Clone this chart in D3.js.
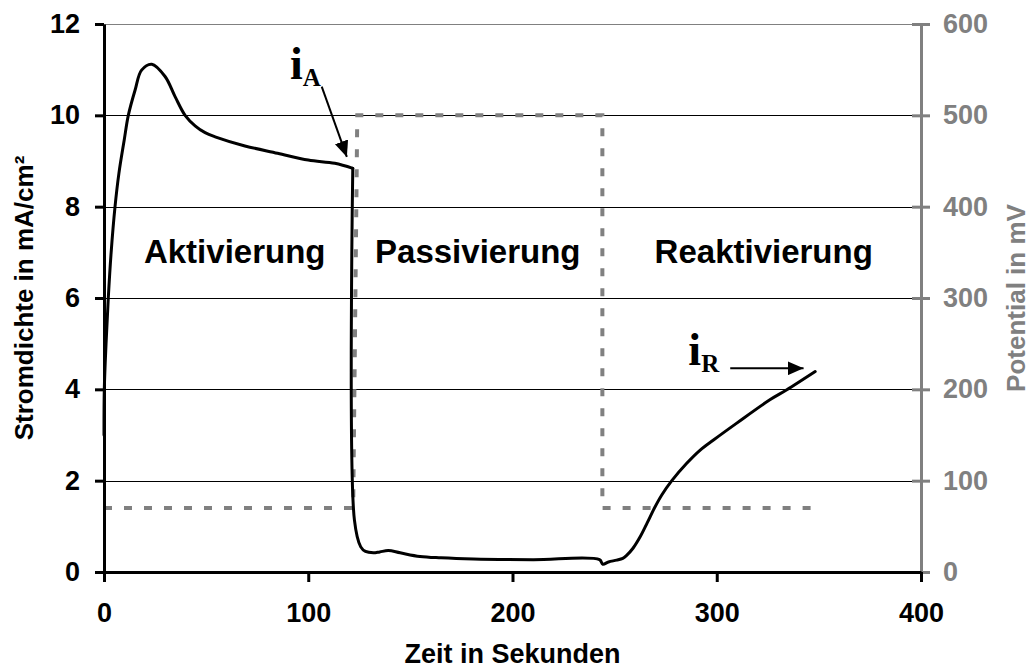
<!DOCTYPE html>
<html>
<head>
<meta charset="utf-8">
<script src="https://cdn.jsdelivr.net/npm/d3@7"></script>
<style>
  body { margin: 0; background: #fff; }
  svg { display: block; }
  text { font-family: "Liberation Sans", Arial, sans-serif; font-weight: bold; }
</style>
</head>
<body>
<svg id="chart" width="1030" height="668"></svg>
<script>
// current density curve (Zeit in s, Stromdichte in mA/cm²)
const timeS = [0, 0.15, 1.0, 2.1, 3.5, 5.4, 7.3, 9.9, 11.9, 15.2, 18.4, 23.4, 29.9, 34.8, 39.7, 44.6, 49.5, 54.4, 69, 85, 100, 113, 121.8,
  122.6, 125.7, 128, 131.9, 135, 139.2, 145, 154.7, 165, 180.9, 210, 242.6, 244.2, 247, 251, 254, 256, 259, 262.5, 266, 269.5, 273,
  278, 285.3, 291.9, 298.4, 309.8, 326, 334.3, 348.2];
const current = [3.0, 4.0, 5.0, 6.0, 7.0, 8.0, 8.73, 9.46, 10.0, 10.55, 10.99, 11.12, 10.85, 10.41, 10.0, 9.77, 9.62, 9.53, 9.33, 9.17, 9.02, 8.95, 8.84,
  1.14, 0.55, 0.45, 0.42, 0.44, 0.47, 0.42, 0.34, 0.31, 0.285, 0.27, 0.27, 0.17, 0.22, 0.26, 0.3, 0.37, 0.52, 0.77, 1.08, 1.4, 1.68,
  2.0, 2.38, 2.67, 2.89, 3.26, 3.77, 3.99, 4.39];

// applied potential (dashed)
const potTime = [0, 122, 124, 244, 244, 349];
const potential = [70, 70, 500, 500, 70, 70];

const xTicks = [0, 100, 200, 300, 400];
const yTicks = [0, 2, 4, 6, 8, 10, 12];
const y2Ticks = [0, 100, 200, 300, 400, 500, 600];
const phases = ["Aktivierung", "Passivierung", "Reaktivierung"];
const phaseCenters = [64, 183, 323];

const margin = {top: 24, right: 109, bottom: 96, left: 104};
const W = 1030, H = 668;
const w = W - margin.left - margin.right;
const h = H - margin.top - margin.bottom;
const grey = "#808080";

const svg = d3.select("#chart");
const g = svg.append("g").attr("transform", `translate(${margin.left},${margin.top})`);

const x = d3.scaleLinear().domain([0, 400]).range([0, w]);
const y = d3.scaleLinear().domain([0, 12]).range([h, 0]);
const y2 = d3.scaleLinear().domain([0, 600]).range([h, 0]);

// gridlines
g.selectAll(".grid").data(yTicks.filter(d => d > 0)).enter().append("line")
  .attr("x1", 0).attr("x2", w)
  .attr("y1", d => Math.round(y(d)) + 0.5).attr("y2", d => Math.round(y(d)) + 0.5)
  .attr("stroke", d => d === 12 ? grey : "#000").attr("stroke-width", 1);

// potential line
const potData = potTime.map((t, i) => [t, potential[i]]);
g.append("path").datum(potData)
  .attr("fill", "none").attr("stroke", grey).attr("stroke-width", 4)
  .attr("stroke-dasharray", "8,12")
  .attr("d", d3.line().x(d => x(d[0])).y(d => y2(d[1])));

// current line, smoothed in two pieces so the drop keeps its sharp corner
const curData = timeS.map((t, i) => [t, current[i]]);
const cut = timeS.indexOf(121.8);
const curLine = d3.line().curve(d3.curveCatmullRom.alpha(0.5)).x(d => x(d[0])).y(d => y(d[1]));
[curData.slice(0, cut + 1), curData.slice(cut)].forEach(part => {
  g.append("path").datum(part)
    .attr("fill", "none").attr("stroke", "#000").attr("stroke-width", 3)
    .attr("stroke-linejoin", "round").attr("stroke-linecap", "round")
    .attr("d", curLine);
});

// axes
const fs = 27;
const ax = g.append("g").attr("transform", `translate(0,${h})`)
  .call(d3.axisBottom(x).tickValues(xTicks).tickSize(10).tickPadding(21).tickSizeOuter(0));
const ay = g.append("g")
  .call(d3.axisLeft(y).tickValues(yTicks).tickSize(9).tickPadding(15).tickSizeOuter(0));
const ay2 = g.append("g").attr("transform", `translate(${w},0)`)
  .call(d3.axisRight(y2).tickValues(y2Ticks).tickSize(9).tickPadding(13).tickSizeOuter(0));
ay2.selectAll(".tick line").attr("x1", -9);

[ax, ay].forEach(a => {
  a.select(".domain").attr("stroke", "#000").attr("stroke-width", 3);
  a.selectAll(".tick line").attr("stroke", "#000").attr("stroke-width", 3);
  a.selectAll("text").attr("fill", "#000").style("font-size", fs + "px");
});
ay2.select(".domain").attr("stroke", grey).attr("stroke-width", 3);
ay2.selectAll(".tick line").attr("stroke", grey).attr("stroke-width", 3);
ay2.selectAll("text").attr("fill", grey).style("font-size", fs + "px");
ay2.raise();
ax.raise();

// axis titles
svg.append("text").attr("x", margin.left + w / 2).attr("y", 663)
  .attr("text-anchor", "middle").style("font-size", "27px").text("Zeit in Sekunden");
svg.append("text").attr("transform", `translate(33,${margin.top + h / 2}) rotate(-90)`)
  .attr("text-anchor", "middle").style("font-size", "26px").text("Stromdichte in mA/cm²");
svg.append("text").attr("transform", `translate(1025,${margin.top + h / 2}) rotate(-90)`)
  .attr("text-anchor", "middle").attr("fill", grey).style("font-size", "26px").text("Potential in mV");

// phase labels
g.selectAll(".phase").data(phases).enter().append("text")
  .attr("x", (d, i) => x(phaseCenters[i])).attr("y", y(6.77))
  .attr("text-anchor", "middle").style("font-size", "33px").text(d => d);

// arrows i_A and i_R
svg.append("defs").append("marker")
  .attr("id", "head").attr("markerUnits", "userSpaceOnUse")
  .attr("viewBox", "0 0 16 14").attr("refX", 16).attr("refY", 7)
  .attr("markerWidth", 16).attr("markerHeight", 14).attr("orient", "auto")
  .append("path").attr("d", "M0,0L16,7L0,14Z").attr("fill", "#000");

function arrow(t1, v1, t2, v2) {
  g.append("line").attr("x1", x(t1)).attr("y1", y(v1)).attr("x2", x(t2)).attr("y2", y(v2))
    .attr("stroke", "#000").attr("stroke-width", 2).attr("marker-end", "url(#head)");
}
function label(t, v, sub) {
  const tx = g.append("text").attr("x", x(t)).attr("y", y(v))
    .style("font-family", "'Liberation Serif', 'Times New Roman', serif");
  tx.append("tspan").style("font-size", "46px").text("i");
  tx.append("tspan").attr("dy", 7).style("font-size", "25px").text(sub);
}
arrow(106.6, 10.63, 118.9, 9.09);
label(91.1, 10.79, "A");
arrow(306.6, 4.46, 342.5, 4.46);
label(286.1, 4.53, "R");
</script>
</body>
</html>
